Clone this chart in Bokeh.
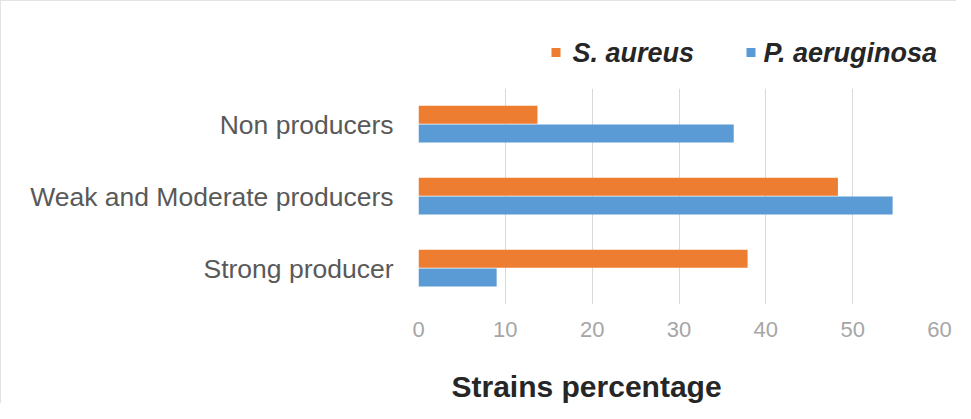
from bokeh.plotting import figure
from bokeh.models import Range1d, FactorRange, Title, ColumnDataSource
from bokeh.core.properties import value
from bokeh.transform import dodge
from bokeh.layouts import column
from bokeh.embed import file_html
from bokeh.resources import INLINE

categories = ["Strong producer", "Weak and Moderate producers", "Non producers"]
s_aureus = [37.9, 48.3, 13.7]
p_aeruginosa = [9.0, 54.6, 36.3]
x_ticks = [0, 10, 20, 30, 40, 50, 60]
series_names = ["S. aureus", "P. aeruginosa"]

ORANGE = "#ED7D31"
BLUE = "#5B9BD5"
series_colors = [ORANGE, BLUE]

W = 955
BL, BR = 417, 17

src = ColumnDataSource(dict(cat=categories, sa=s_aureus, pa=p_aeruginosa))

# ---- legend strip (top), pixel-like coordinates aligned with the main frame ----
LH = 87
pl = figure(width=W, height=LH, output_backend="svg", toolbar_location=None,
            x_range=Range1d(BL, W - BR), y_range=Range1d(LH, 0),
            min_border_left=BL, min_border_right=BR, min_border_top=0, min_border_bottom=0)
pl.axis.visible = False
pl.grid.visible = False
pl.outline_line_color = None
leg_src = ColumnDataSource(dict(name=series_names, color=series_colors,
                                sx=[554.5, 749.5], tx=[571, 762], y=[51, 51]))
pl.rect(x="sx", y="y", width=9, height=9, fill_color="color", line_color=None, source=leg_src)
pl.text(x="tx", y="y", text="name", source=leg_src, text_baseline="middle", text_align="left",
        text_font=value("Liberation Sans"), text_font_size="27px",
        text_font_style="bold italic", text_color="#262626")

# ---- main chart ----
p = figure(width=W, height=315, output_backend="svg", toolbar_location=None,
           y_range=FactorRange(*categories, range_padding=0),
           x_range=Range1d(0, 60),
           min_border_left=BL, min_border_right=BR,
           min_border_top=0, min_border_bottom=99)

p.hbar(y=dodge("cat", 0.135, range=p.y_range), right="sa", left=0, height=0.25,
       source=src, fill_color=ORANGE, line_color=None)
p.hbar(y=dodge("cat", -0.125, range=p.y_range), right="pa", left=0, height=0.25,
       source=src, fill_color=BLUE, line_color=None)

p.outline_line_color = None
p.xgrid.grid_line_color = "#D9D9D9"
p.xgrid.grid_line_width = 1
p.ygrid.grid_line_color = None
p.xaxis.ticker = x_ticks

for ax in (p.xaxis, p.yaxis):
    ax.axis_line_color = None
    ax.major_tick_line_color = None
    ax.minor_tick_line_color = None

p.yaxis.major_label_text_font = "Liberation Sans"
p.yaxis.major_label_text_font_size = "26.5px"
p.yaxis.major_label_text_color = "#595959"
p.yaxis.major_label_standoff = 19

p.xaxis.major_label_text_font = "Liberation Sans"
p.xaxis.major_label_text_font_size = "22px"
p.xaxis.major_label_text_color = "#A6A6A6"
p.xaxis.major_label_standoff = 11
p.xaxis.axis_label = " "
p.xaxis.axis_label_text_font_size = "1px"
p.xaxis.axis_label_standoff = 24

t = Title(text="Strains percentage", align="left", offset=33, standoff=0,
          text_font="Liberation Sans", text_font_size="30px", text_font_style="bold",
          text_color="#262626")
p.add_layout(t, "below")

layout = column(pl, p, spacing=0)
layout.styles = {"border-top": "1px solid #E3E3E3", "border-left": "1px solid #E3E3E3"}

open("out.html", "w").write(file_html(layout, INLINE))
